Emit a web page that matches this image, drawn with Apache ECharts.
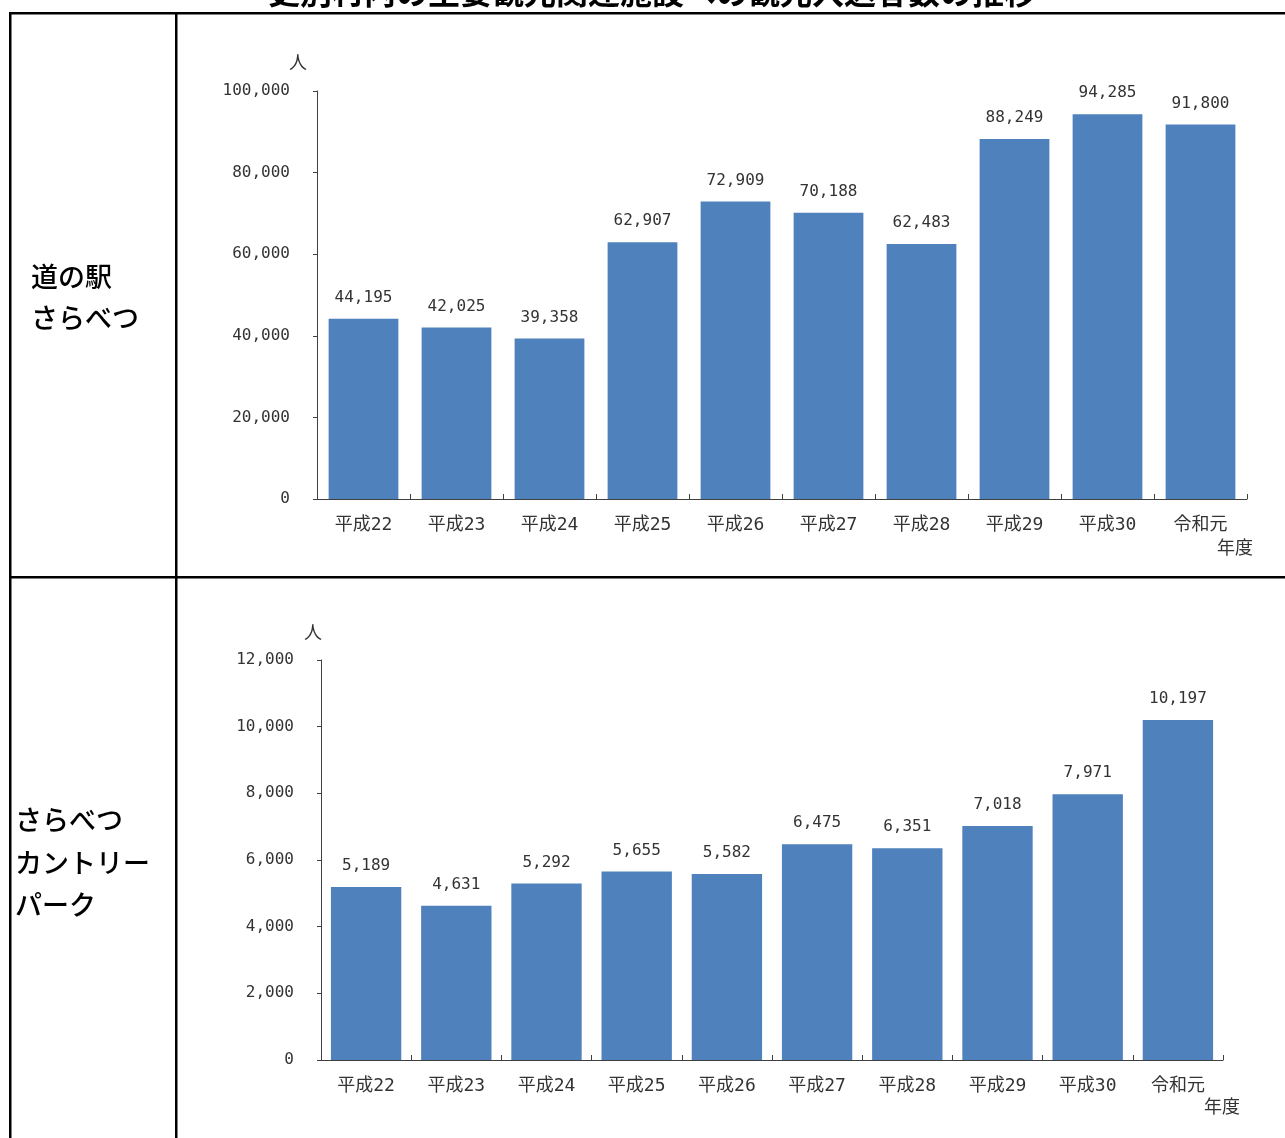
<!DOCTYPE html>
<html><head><meta charset="utf-8">
<script src="https://cdn.jsdelivr.net/npm/echarts@6/dist/echarts.min.js"></script>
<style>html,body{margin:0;padding:0;background:#fff}#c{width:1285px;height:1138px}</style>
</head><body><div id="c"></div>
<script>
const title = '更別村内の主要観光関連施設への観光入込客数の推移';
const categories = ['平成22','平成23','平成24','平成25','平成26','平成27','平成28','平成29','平成30','令和元'];
const michinoeki = [44195, 42025, 39358, 62907, 72909, 70188, 62483, 88249, 94285, 91800];
const countryPark = [5189, 4631, 5292, 5655, 5582, 6475, 6351, 7018, 7971, 10197];
const rowLabels1 = ['道の駅', 'さらべつ'];
const rowLabels2 = ['さらべつ', 'カントリー', 'パーク'];
const unitLabel = '人';
const xUnitLabel = '年度';

const FONT = '"DejaVu Sans Mono", "Noto Sans CJK JP", monospace';
const TXT = '#333';
const fmt = v => v.toLocaleString('en-US');

function axisX(gi){
  return {
    type:'category', gridIndex:gi, data:categories,
    axisLine:{lineStyle:{color:'#404040', width:1}},
    axisTick:{show:true, inside:true, length:5, lineStyle:{color:'#404040'}},
    axisLabel:{color:TXT, fontFamily:FONT, fontSize:18, margin:17}
  };
}
function axisY(gi, max, interval){
  return {
    type:'value', gridIndex:gi, min:0, max:max, interval:interval,
    splitLine:{show:false},
    axisLine:{show:true, lineStyle:{color:'#404040', width:1}},
    axisTick:{show:true, length:4, lineStyle:{color:'#404040'}},
    axisLabel:{color:TXT, fontFamily:FONT, fontSize:16, margin:27, formatter:fmt}
  };
}
function barSeries(gi, data, gap){
  return {
    type:'bar', xAxisIndex:gi, yAxisIndex:gi, data:data,
    barCategoryGap:gap,
    itemStyle:{color:'#4F81BD'},
    label:{show:true, position:'top', distance:13, color:TXT, fontFamily:FONT, fontSize:16, formatter:p=>fmt(p.value)}
  };
}

const g = [];
const K = '#000';
g.push({type:'rect', shape:{x:9, y:12, width:1276, height:2.5}, style:{fill:K}});
g.push({type:'rect', shape:{x:9, y:12, width:2.5, height:1126}, style:{fill:K}});
g.push({type:'rect', shape:{x:175, y:12, width:2.5, height:1126}, style:{fill:K}});
g.push({type:'rect', shape:{x:9, y:576, width:1276, height:2.5}, style:{fill:K}});
g.push({type:'text', x:652, y:-8, style:{text:title, fill:'#000', font:'bold 32px "Noto Sans CJK JP"', textAlign:'center', textVerticalAlign:'middle'}});
rowLabels1.forEach((t,i)=>g.push({type:'text', x:31, y:277+i*41, style:{text:t, fill:'#000', font:'500 27px "Noto Sans CJK JP"', textAlign:'left', textVerticalAlign:'middle'}}));
rowLabels2.forEach((t,i)=>g.push({type:'text', x:15, y:820+i*42.5, style:{text:t, fill:'#000', font:'500 27px "Noto Sans CJK JP"', textAlign:'left', textVerticalAlign:'middle'}}));
g.push({type:'text', x:298, y:62, style:{text:unitLabel, fill:TXT, font:'18px "Noto Sans CJK JP"', textAlign:'center', textVerticalAlign:'middle'}});
g.push({type:'text', x:313, y:632, style:{text:unitLabel, fill:TXT, font:'18px "Noto Sans CJK JP"', textAlign:'center', textVerticalAlign:'middle'}});
g.push({type:'text', x:1235, y:547, style:{text:xUnitLabel, fill:TXT, font:'18px "Noto Sans CJK JP"', textAlign:'center', textVerticalAlign:'middle'}});
g.push({type:'text', x:1222, y:1106, style:{text:xUnitLabel, fill:TXT, font:'18px "Noto Sans CJK JP"', textAlign:'center', textVerticalAlign:'middle'}});

const chart = echarts.init(document.getElementById('c'));
chart.setOption({
  animation:false,
  backgroundColor:'#fff',
  grid:[
    {left:317, right:38, top:91, bottom:639},
    {left:321, right:62, top:660, bottom:78}
  ],
  xAxis:[axisX(0), axisX(1)],
  yAxis:[axisY(0, 100000, 20000), axisY(1, 12000, 2000)],
  series:[barSeries(0, michinoeki, '25%'), barSeries(1, countryPark, '22%')],
  graphic:g
});
</script></body></html>
